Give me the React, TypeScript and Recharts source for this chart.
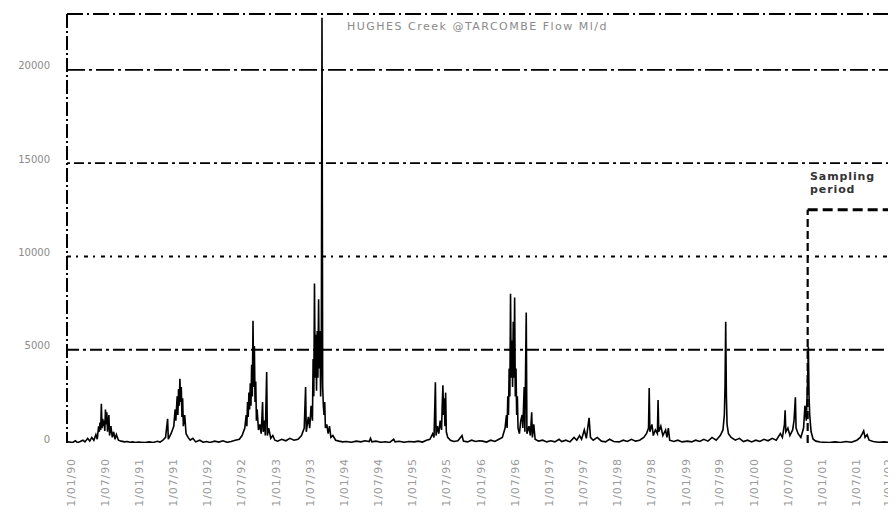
import React from "react";
import { LineChart, Line, XAxis, YAxis, ReferenceLine } from "recharts";

type P = [number, number];

const flow1990: P[] = [
  [1989.95, 60], [1990.02, 30], [1990.06, 120], [1990.09, 20], [1990.13, 80], [1990.17, 150], [1990.2, 60],
  [1990.24, 250], [1990.27, 100], [1990.3, 300], [1990.33, 150], [1990.36, 450], [1990.38, 200], [1990.4, 900],
  [1990.41, 600], [1990.42, 1100], [1990.43, 700], [1990.44, 2100], [1990.45, 800], [1990.46, 1300], [1990.47, 900],
  [1990.48, 1200], [1990.49, 650], [1990.5, 1800], [1990.51, 1000], [1990.52, 1650], [1990.53, 600], [1990.55, 1500],
  [1990.56, 400], [1990.58, 900], [1990.6, 300], [1990.62, 600], [1990.64, 200], [1990.66, 450], [1990.69, 150],
  [1990.73, 100], [1990.78, 60], [1990.82, 80], [1990.86, 40], [1990.9, 60], [1990.94, 30], [1990.98, 50],
];
const flow1991: P[] = [
  [1991.02, 40], [1991.08, 20], [1991.14, 60], [1991.2, 30], [1991.26, 90], [1991.3, 50], [1991.34, 150],
  [1991.38, 300], [1991.41, 1300], [1991.42, 200], [1991.46, 500], [1991.5, 900], [1991.52, 1800], [1991.53, 1200],
  [1991.55, 2500], [1991.56, 1500], [1991.57, 2900], [1991.58, 2000], [1991.59, 3450], [1991.6, 2200], [1991.61, 3000],
  [1991.62, 1400], [1991.63, 2400], [1991.64, 900], [1991.66, 1500], [1991.68, 500], [1991.71, 300], [1991.74, 150],
  [1991.78, 250], [1991.82, 60], [1991.88, 150], [1991.93, 40], [1991.98, 80],
];
const flow1992: P[] = [
  [1992.03, 30], [1992.1, 100], [1992.16, 50], [1992.22, 120], [1992.28, 40], [1992.34, 80], [1992.4, 150],
  [1992.46, 200], [1992.5, 400], [1992.54, 800], [1992.56, 1500], [1992.57, 900], [1992.58, 2200], [1992.59, 1400],
  [1992.6, 2700], [1992.61, 1800], [1992.62, 3200], [1992.63, 2000], [1992.64, 4200], [1992.65, 2500], [1992.66, 6550],
  [1992.67, 3000], [1992.68, 5200], [1992.69, 2200], [1992.7, 3300], [1992.71, 1200], [1992.72, 1800], [1992.74, 700],
  [1992.76, 1000], [1992.78, 500], [1992.8, 2200], [1992.81, 600], [1992.83, 1200], [1992.84, 400], [1992.86, 3800],
  [1992.87, 400], [1992.89, 800], [1992.92, 250], [1992.95, 400], [1992.98, 150],
];
const flow1993: P[] = [
  [1993.02, 100], [1993.08, 200], [1993.14, 120], [1993.2, 250], [1993.26, 150], [1993.32, 200], [1993.37, 400],
  [1993.41, 800], [1993.43, 3000], [1993.44, 600], [1993.47, 1400], [1993.49, 800], [1993.51, 2000], [1993.53, 1200],
  [1993.54, 4500], [1993.55, 2500], [1993.56, 8550], [1993.57, 3500], [1993.58, 5800], [1993.59, 2800], [1993.6, 6000],
  [1993.61, 3500], [1993.62, 7700], [1993.63, 4000], [1993.64, 6000], [1993.65, 2500], [1993.66, 4500], [1993.67, 22800],
  [1993.68, 3000], [1993.69, 2000], [1993.7, 1500], [1993.71, 2200], [1993.72, 800], [1993.74, 1000], [1993.76, 500],
  [1993.78, 900], [1993.8, 300], [1993.83, 400], [1993.87, 150], [1993.92, 100], [1993.97, 60],
];
const flow1994: P[] = [
  [1994.03, 80], [1994.1, 40], [1994.17, 100], [1994.24, 60], [1994.3, 120], [1994.36, 80], [1994.38, 250],
  [1994.4, 60], [1994.46, 100], [1994.53, 40], [1994.6, 70], [1994.66, 30], [1994.72, 200], [1994.74, 60],
  [1994.8, 90], [1994.87, 40], [1994.94, 80],
];
const flow1995: P[] = [
  [1995.02, 60], [1995.08, 100], [1995.14, 50], [1995.2, 150], [1995.25, 200], [1995.29, 500], [1995.31, 300],
  [1995.33, 3250], [1995.34, 400], [1995.36, 900], [1995.38, 500], [1995.4, 1200], [1995.42, 700], [1995.43, 2000],
  [1995.44, 3100], [1995.45, 1500], [1995.46, 2400], [1995.47, 900], [1995.48, 2700], [1995.49, 600], [1995.51, 300],
  [1995.55, 150], [1995.6, 80], [1995.66, 120], [1995.72, 400], [1995.74, 100], [1995.8, 60], [1995.86, 150],
  [1995.92, 80], [1995.97, 120],
];
const flow1996: P[] = [
  [1996.02, 100], [1996.08, 50], [1996.14, 150], [1996.2, 80], [1996.26, 200], [1996.31, 300], [1996.35, 800],
  [1996.37, 1500], [1996.38, 800], [1996.39, 2500], [1996.4, 1500], [1996.41, 4000], [1996.42, 2500], [1996.43, 8000],
  [1996.44, 3500], [1996.45, 5500], [1996.46, 3000], [1996.47, 6500], [1996.48, 3500], [1996.49, 7800], [1996.5, 2500],
  [1996.51, 4000], [1996.52, 1500], [1996.53, 2500], [1996.54, 800], [1996.56, 500], [1996.58, 1200], [1996.6, 1500],
  [1996.61, 800], [1996.63, 3000], [1996.64, 600], [1996.66, 7000], [1996.67, 500], [1996.7, 900], [1996.72, 400],
  [1996.74, 1650], [1996.75, 300], [1996.77, 1000], [1996.79, 200], [1996.84, 100], [1996.9, 150], [1996.96, 60],
];
const flow1997: P[] = [
  [1997.02, 120], [1997.08, 60], [1997.14, 200], [1997.18, 80], [1997.24, 150], [1997.3, 60], [1997.36, 300],
  [1997.4, 150], [1997.44, 400], [1997.47, 200], [1997.51, 700], [1997.54, 250], [1997.58, 1350], [1997.6, 300],
  [1997.64, 150], [1997.7, 300], [1997.76, 100], [1997.82, 60], [1997.88, 200], [1997.94, 80],
];
const flow1998: P[] = [
  [1998.02, 60], [1998.08, 150], [1998.14, 80], [1998.2, 200], [1998.26, 100], [1998.32, 150], [1998.38, 300],
  [1998.42, 500], [1998.45, 800], [1998.46, 2950], [1998.47, 600], [1998.5, 1000], [1998.52, 400], [1998.55, 700],
  [1998.58, 500], [1998.59, 2300], [1998.6, 600], [1998.63, 900], [1998.66, 400], [1998.7, 700], [1998.72, 300],
  [1998.74, 800], [1998.76, 150], [1998.82, 80], [1998.88, 150], [1998.94, 60],
];
const flow1999: P[] = [
  [1999.02, 100], [1999.08, 60], [1999.14, 150], [1999.2, 80], [1999.26, 200], [1999.32, 100], [1999.38, 300],
  [1999.44, 150], [1999.5, 400], [1999.54, 700], [1999.56, 1500], [1999.57, 3000], [1999.58, 6500], [1999.59, 2500],
  [1999.6, 1000], [1999.62, 500], [1999.66, 300], [1999.72, 150], [1999.78, 250], [1999.84, 80], [1999.9, 150],
  [1999.96, 60],
];
const flow2000: P[] = [
  [2000.02, 150], [2000.08, 80], [2000.14, 200], [2000.2, 120], [2000.26, 250], [2000.32, 150], [2000.38, 500],
  [2000.41, 300], [2000.44, 1000], [2000.45, 1750], [2000.46, 600], [2000.49, 800], [2000.52, 400], [2000.56, 700],
  [2000.58, 1200], [2000.6, 2450], [2000.61, 800], [2000.64, 500], [2000.68, 300], [2000.72, 800], [2000.74, 2000],
  [2000.76, 1200], [2000.78, 3500], [2000.79, 5150], [2000.8, 2500], [2000.81, 1500], [2000.83, 600], [2000.86, 200],
  [2000.9, 100], [2000.96, 50],
];
const flow2001: P[] = [
  [2001.02, 40], [2001.1, 20], [2001.18, 60], [2001.26, 30], [2001.34, 80], [2001.42, 40], [2001.5, 150],
  [2001.55, 300], [2001.58, 500], [2001.6, 650], [2001.62, 300], [2001.65, 450], [2001.68, 150], [2001.74, 80],
  [2001.82, 40], [2001.9, 60], [2001.98, 30], [2002.05, 40], [2002.1, 30],
];

const tickLabels: string[] = [
  "1/01/90", "1/07/90", "1/01/91", "1/07/91", "1/01/92", "1/07/92", "1/01/93", "1/07/93",
  "1/01/94", "1/07/94", "1/01/95", "1/07/95", "1/01/96", "1/07/96", "1/01/97", "1/07/97",
  "1/01/98", "1/07/98", "1/01/99", "1/07/99", "1/01/00", "1/07/00", "1/01/01", "1/07/01", "1/01/02",
];
const yTicks: number[] = [0, 5000, 10000, 15000, 20000];
const gridLevels: number[] = [5000, 10000, 15000, 20000, 23000];
const gridDashes: string[] = ["12 4 3 4", "4 5 2 6", "3 4 10 4", "18 4 3 4", "16 4 2 4"];

const title = "HUGHES Creek @TARCOMBE Flow Ml/d";
const samplingLabel = ["Sampling", "period"];
const samplingStart = 2000.78;
const samplingLevel = 12500;

const xMin = 1989.937;
const xMax = 2002.073;

const labelToYear = (s: string): number => {
  const parts = s.split("/");
  const m = parseInt(parts[1], 10);
  const yy = parseInt(parts[2], 10);
  const y = yy < 50 ? 2000 + yy : 1900 + yy;
  return y + (m === 7 ? 181 / 365 : 0);
};
const tickValues = tickLabels.map(labelToYear);
const labelMap: Record<string, string> = {};
tickLabels.forEach((l, i) => {
  labelMap[tickValues[i].toFixed(4)] = l;
});

const data = [
  ...flow1990, ...flow1991, ...flow1992, ...flow1993, ...flow1994, ...flow1995,
  ...flow1996, ...flow1997, ...flow1998, ...flow1999, ...flow2000, ...flow2001,
].map(([t, v]) => ({ t, v }));

const XTick = (props: any) => {
  const { x, y, payload } = props;
  const tx = Math.min(x, 880);
  const ty = y + 7;
  return (
    <text
      x={tx}
      y={ty}
      transform={`rotate(-90 ${tx} ${ty})`}
      textAnchor="end"
      dominantBaseline="central"
      fontFamily="DejaVu Sans"
      fontSize={11}
      letterSpacing={0.9}
      fill="#9a9a9a"
    >
      {labelMap[Number(payload.value).toFixed(4)]}
    </text>
  );
};

const YTick = (props: any) => {
  const { y, payload } = props;
  return (
    <text
      x={42}
      y={y - 4}
      textAnchor="end"
      dominantBaseline="central"
      fontFamily="DejaVu Sans"
      fontSize={10}
      fill="#8a8a8a"
    >
      {payload.value}
    </text>
  );
};

export default function App() {
  return (
    <div style={{ width: 888, height: 507, overflow: "hidden", position: "relative" }}>
      <LineChart width={888} height={507} data={data} margin={{ top: 6, right: 0, bottom: 0, left: 0 }}>
        <XAxis
          dataKey="t"
          type="number"
          domain={[xMin, xMax]}
          ticks={tickValues}
          allowDataOverflow
          axisLine={false}
          tickLine={false}
          height={72}
          interval={0}
          tick={<XTick />}
        />
        <YAxis
          type="number"
          domain={[0, 23000]}
          ticks={yTicks}
          width={59}
          allowDataOverflow
          tickLine={false}
          axisLine={{ stroke: "#000", strokeWidth: 2, strokeDasharray: "14 3 2 3" }}
          interval={0}
          tick={<YTick />}
        />
        {gridLevels.map((g, i) => (
          <ReferenceLine
            key={g}
            y={g}
            stroke="#000"
            strokeWidth={1.8}
            strokeDasharray={gridDashes[i]}
          />
        ))}
        <Line
          type="linear"
          dataKey="v"
          stroke="#000"
          strokeWidth={1.6}
          dot={false}
          isAnimationActive={false}
        />
        <ReferenceLine
          segment={[{ x: samplingStart, y: 0 }, { x: samplingStart, y: samplingLevel }]}
          stroke="#000"
          strokeWidth={2.2}
          strokeDasharray="8 4"
        />
        <ReferenceLine
          segment={[{ x: samplingStart, y: samplingLevel }, { x: xMax, y: samplingLevel }]}
          stroke="#000"
          strokeWidth={3}
          strokeDasharray="10 5"
        />
      </LineChart>
      <div
        style={{
          position: "absolute",
          left: 339,
          top: 12,
          fontFamily: "DejaVu Sans",
          fontSize: 11,
          letterSpacing: 1.5,
          color: "#8a8a8a",
          whiteSpace: "nowrap",
        }}
      >
        {title}
      </div>
      <div
        style={{
          position: "absolute",
          left: 802,
          top: 162,
          fontFamily: "DejaVu Sans",
          fontSize: 11,
          fontWeight: "bold",
          letterSpacing: 0.9,
          lineHeight: "13px",
          color: "#333",
          whiteSpace: "nowrap",
        }}
      >
        <div>{samplingLabel[0]}</div>
        <div>{samplingLabel[1]}</div>
      </div>
    </div>
  );
}
